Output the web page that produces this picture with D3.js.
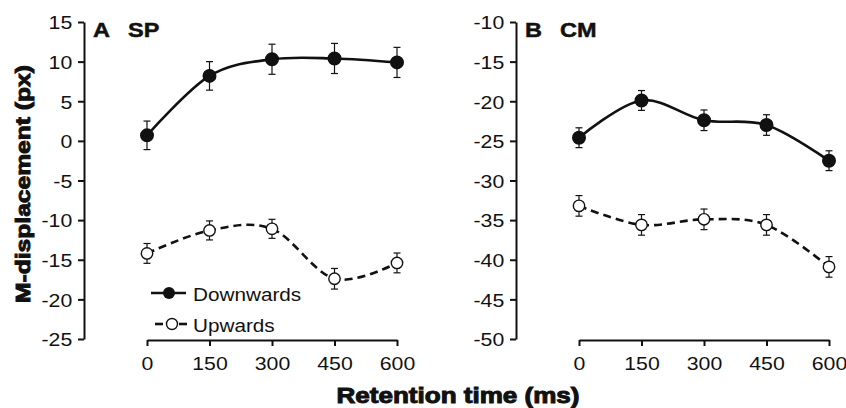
<!DOCTYPE html>
<html>
<head>
<meta charset="utf-8">
<script src="https://cdn.jsdelivr.net/npm/d3@7"></script>
<style>
  body { margin: 0; background: #fff; }
  text { font-family: "Liberation Sans", Arial, sans-serif; fill: #111; }
</style>
</head>
<body>
<div id="chart"></div>
<script>
// data
const times = [0, 150, 300, 450, 600];
const seriesNames = ["Downwards", "Upwards"];

const spDown = [0.7, 8.2, 10.3, 10.4, 9.9];
const spDownErr = [1.8, 1.8, 1.9, 1.9, 1.9];
const spUp = [-14.2, -11.3, -11.1, -17.4, -15.4];
const spUpErr = [1.25, 1.2, 1.2, 1.3, 1.25];

const cmDown = [-24.6, -19.9, -22.4, -23.0, -27.5];
const cmDownErr = [1.25, 1.25, 1.3, 1.3, 1.25];
const cmUp = [-33.2, -35.6, -34.9, -35.6, -40.9];
const cmUpErr = [1.3, 1.3, 1.3, 1.3, 1.3];

const spTicks = [15, 10, 5, 0, -5, -10, -15, -20, -25];
const cmTicks = [-10, -15, -20, -25, -30, -35, -40, -45, -50];

const W = 846, H = 408;
const stretch = 1.12;

const svg = d3.select("#chart").append("svg")
    .attr("width", W)
    .attr("height", H);

// one panel: y axis, x axis, two series
function drawPanel(opts) {
    const x = d3.scaleLinear().domain([0, 600]).range([opts.x0, opts.x0 + 250]);
    const y = d3.scaleLinear().domain(opts.yDomain).range([339, 22]);

    // y axis
    const yAxis = svg.append("g")
        .attr("transform", `translate(${opts.yAxisX},0)`)
        .call(d3.axisLeft(y).tickValues(opts.ticks).tickFormat(d => String(d))
            .tickSize(6).tickSizeOuter(0));
    yAxis.select(".domain").attr("stroke", "#111").attr("stroke-width", 2);
    yAxis.selectAll(".tick line").attr("stroke", "#111").attr("stroke-width", 2);
    yAxis.selectAll(".tick text")
        .attr("x", -10.5)
        .attr("dy", "0.36em")
        .attr("transform", `scale(${stretch},1)`)
        .style("font-size", "19px")
        .style("fill", "#111")
        .style("font-family", "'Liberation Sans', Arial, sans-serif");

    // x axis
    const xAxis = svg.append("g")
        .attr("transform", "translate(0,340)")
        .call(d3.axisBottom(x).tickValues(times).tickSize(6).tickSizeOuter(0));
    xAxis.select(".domain").attr("stroke", "#111").attr("stroke-width", 2);
    xAxis.selectAll(".tick line").attr("stroke", "#111").attr("stroke-width", 2);
    xAxis.selectAll(".tick text")
        .attr("y", 30)
        .attr("dy", 0)
        .attr("transform", `scale(${stretch},1)`)
        .style("font-size", "19px")
        .style("fill", "#111")
        .style("font-family", "'Liberation Sans', Arial, sans-serif");

    // panel label
    svg.append("text")
        .attr("transform", `translate(${opts.yAxisX + 9},37) scale(1.12,1)`)
        .style("font-size", "21px")
        .style("font-weight", "bold")
        .attr("stroke", "#111").attr("stroke-width", 0.5)
        .text(opts.letter);
    svg.append("text")
        .attr("transform", `translate(${opts.yAxisX + 44},37) scale(1.12,1)`)
        .style("font-size", "21px")
        .style("font-weight", "bold")
        .attr("stroke", "#111").attr("stroke-width", 0.5)
        .text(opts.name);

    const line = d3.line()
        .x((d, i) => x(times[i]))
        .y(d => y(d))
        .curve(d3.curveCardinal.tension(0));

    opts.series.forEach(s => {
        svg.append("path")
            .datum(s.values)
            .attr("d", line)
            .attr("fill", "none")
            .attr("stroke", "#111")
            .attr("stroke-width", 2.6)
            .attr("stroke-dasharray", s.filled ? null : "8,5");

        const g = svg.append("g");
        s.values.forEach((v, i) => {
            const cx = x(times[i]);
            const e = s.err[i];
            g.append("line")
                .attr("x1", cx).attr("x2", cx)
                .attr("y1", y(v + e)).attr("y2", y(v - e))
                .attr("stroke", "#111").attr("stroke-width", 1.2);
            [v + e, v - e].forEach(b => {
                g.append("line")
                    .attr("x1", cx - 3.5).attr("x2", cx + 3.5)
                    .attr("y1", y(b)).attr("y2", y(b))
                    .attr("stroke", "#111").attr("stroke-width", 1.2);
            });
            g.append("circle")
                .attr("cx", cx).attr("cy", y(v))
                .attr("r", s.filled ? 6.3 : 5.7)
                .attr("fill", s.filled ? "#111" : "#fff")
                .attr("stroke", "#111")
                .attr("stroke-width", 1.4);
        });
    });
}

drawPanel({
    x0: 147, yAxisX: 84, yDomain: [-25, 15], ticks: spTicks,
    letter: "A", name: "SP",
    series: [
        { values: spDown, err: spDownErr, filled: true },
        { values: spUp, err: spUpErr, filled: false }
    ]
});

drawPanel({
    x0: 579, yAxisX: 516, yDomain: [-50, -10], ticks: cmTicks,
    letter: "B", name: "CM",
    series: [
        { values: cmDown, err: cmDownErr, filled: true },
        { values: cmUp, err: cmUpErr, filled: false }
    ]
});

// legend inside panel A
const legend = svg.append("g");
legend.append("line")
    .attr("x1", 151).attr("x2", 186).attr("y1", 293).attr("y2", 293)
    .attr("stroke", "#111").attr("stroke-width", 2.6);
legend.append("circle")
    .attr("cx", 169).attr("cy", 293).attr("r", 6)
    .attr("fill", "#111");
legend.append("line")
    .attr("x1", 155).attr("x2", 163).attr("y1", 324).attr("y2", 324)
    .attr("stroke", "#111").attr("stroke-width", 2.6);
legend.append("line")
    .attr("x1", 179).attr("x2", 187).attr("y1", 324).attr("y2", 324)
    .attr("stroke", "#111").attr("stroke-width", 2.6);
legend.append("circle")
    .attr("cx", 172).attr("cy", 324).attr("r", 5.5)
    .attr("fill", "#fff").attr("stroke", "#111").attr("stroke-width", 1.4);
seriesNames.forEach((n, i) => {
    legend.append("text")
        .attr("transform", `translate(193,${301 + i * 31}) scale(${stretch},1)`)
        .style("font-size", "18.5px")
        .text(n);
});

// axis titles
svg.append("text")
    .attr("x", 458).attr("y", 403)
    .attr("text-anchor", "middle")
    .attr("textLength", 243)
    .attr("lengthAdjust", "spacingAndGlyphs")
    .style("font-size", "22px")
    .style("font-weight", "bold")
    .attr("stroke", "#111").attr("stroke-width", 1)
    .text("Retention time (ms)");

svg.append("text")
    .attr("transform", "translate(30,184) rotate(-90)")
    .attr("text-anchor", "middle")
    .attr("textLength", 238)
    .attr("lengthAdjust", "spacingAndGlyphs")
    .style("font-size", "21px")
    .style("font-weight", "bold")
    .attr("stroke", "#111").attr("stroke-width", 1)
    .text("M-displacement (px)");
</script>
</body>
</html>
